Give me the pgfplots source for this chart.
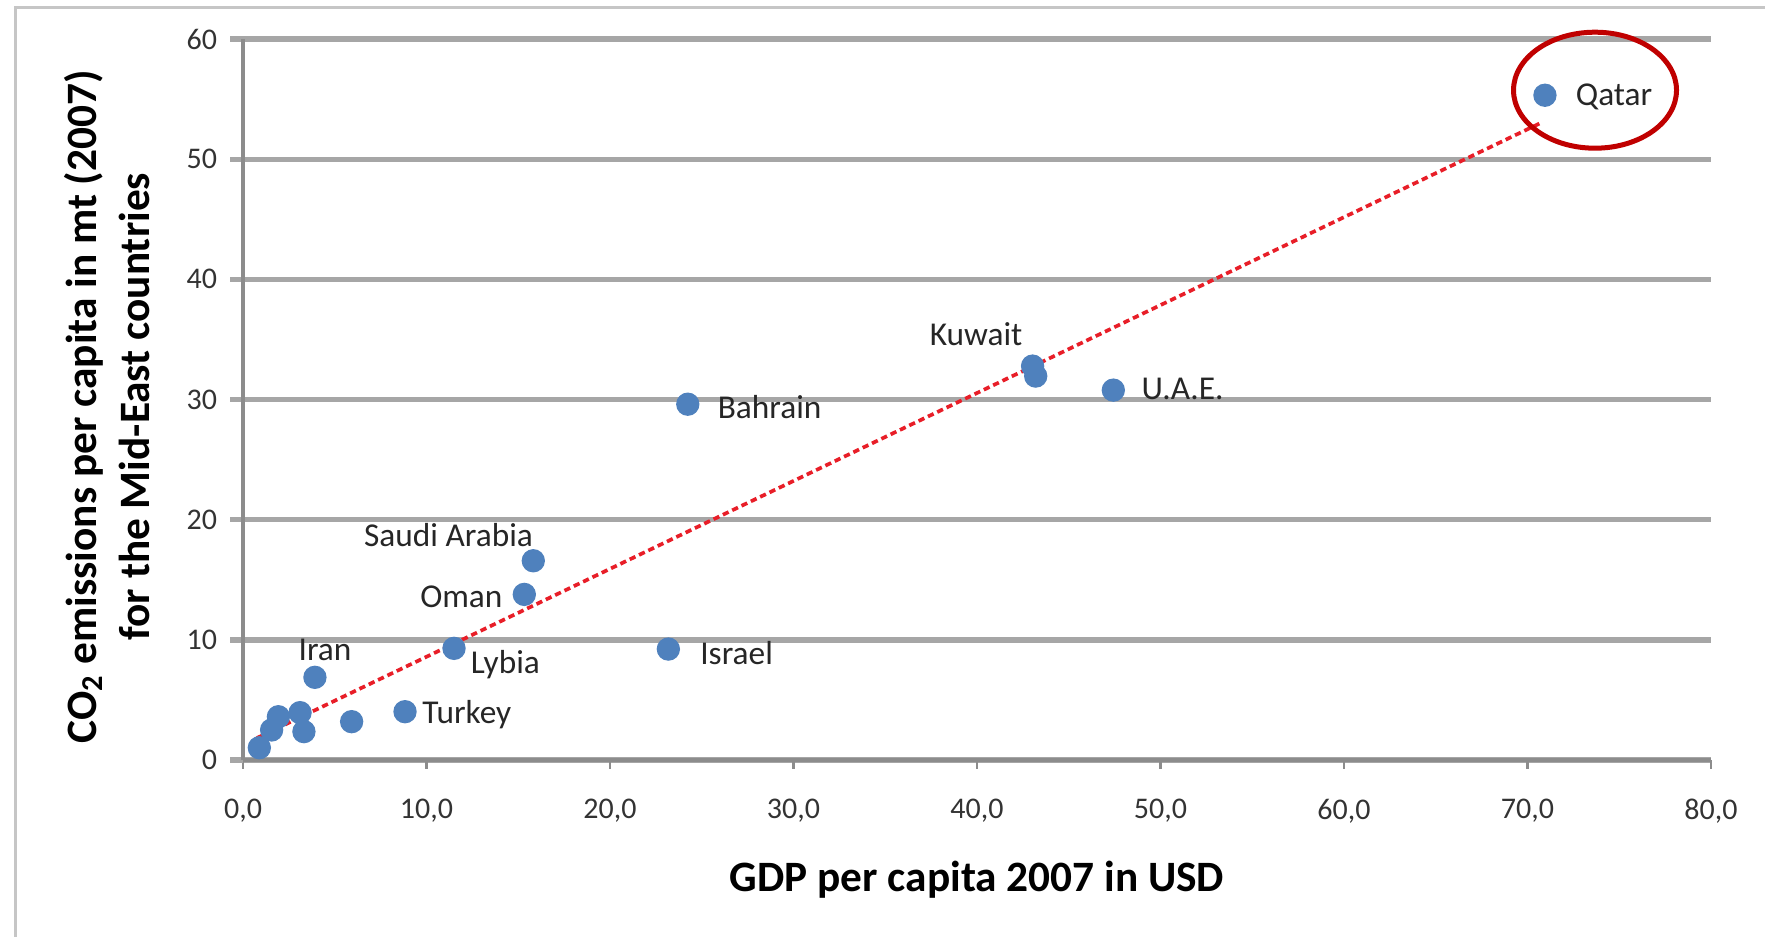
\documentclass[border=0pt]{standalone}
\usepackage{fontspec}
\setmainfont{Carlito}
\usepackage{pgfplots}
\pgfplotsset{compat=1.18}

\definecolor{ptblue}{RGB}{79,129,189}
\definecolor{trendred}{RGB}{232,30,40}
\definecolor{ringred}{RGB}{192,0,0}
\definecolor{gridgray}{RGB}{166,166,166}
\definecolor{axisgray}{RGB}{140,140,140}
\definecolor{framegray}{RGB}{198,198,198}

\begin{document}
\begin{tikzpicture}[lbl/.style={font=\fontsize{10}{12}\selectfont, text=black!85, inner sep=0pt}]
\useasboundingbox (0,0) rectangle (529.5pt,280.8pt);
% chart area frame
\draw[framegray, line width=0.9pt] (4.5pt,-5pt) -- (4.5pt,278.4pt) -- (540pt,278.4pt);
\begin{axis}[
  at={(72.9pt,52.8pt)}, anchor=south west,
  scale only axis, width=440.4pt, height=216.3pt,
  xmin=0, xmax=80, ymin=0, ymax=60,
  xtick={0,10,...,80}, ytick={0,10,...,60},
  axis lines=left, axis line style={-, axisgray, line width=1.3pt},
  ymajorgrids, major grid style={gridgray, line width=1.6pt},
  tick align=outside,
  xtick style={axisgray, line width=0.8pt, /pgfplots/major tick length=2.6pt},
  ytick style={gridgray, line width=1.6pt, /pgfplots/major tick length=3.9pt},
  /pgf/number format/assume math mode=true,
  tick label style={font=\fontsize{9}{10}\selectfont, text=black!80},
  xticklabel style={yshift=-4pt, /pgf/number format/.cd, fixed, fixed zerofill, precision=1, use comma},
  xlabel={GDP per capita 2007 in USD},
  xlabel style={font=\bfseries\fontsize{13}{15}\selectfont, at={(axis description cs:0.5,0)}, anchor=base, yshift=-39.3pt},
  ylabel={CO\textsubscript{2} emissions per capita in mt (2007)\\for the Mid-East countries},
  ylabel style={font=\bfseries\fontsize{13}{15.9}\selectfont, align=center, at={(axis description cs:-0.0925,0.49)}, anchor=center},
  clip=false,
]
% countries: GDP per capita vs CO2 per capita
\addplot[only marks, mark=*, mark size=3.3pt, mark options={draw=ptblue, fill=ptblue}] table {
x y
0.89 1.02
1.56 2.50
1.93 3.60
3.11 3.94
3.32 2.36
5.92 3.19
8.83 4.02
3.92 6.88
11.50 9.29
15.33 13.78
15.82 16.58
23.18 9.23
24.24 29.61
43.03 32.78
43.20 31.95
47.43 30.78
70.95 55.32
};
% linear trend
\addplot[trendred, line width=1.1pt, dash pattern=on 1.9pt off 1.2pt] coordinates {(0.76,1.83) (70.7,53.0)};

\node[lbl, anchor=west] at (axis cs:72.6,55.2) {Qatar};
\node[lbl] at (axis cs:39.95,35.4) {Kuwait};
\node[lbl] at (axis cs:51.2,30.9) {U.A.E.};
\node[lbl] at (axis cs:28.7,29.4) {Bahrain};
\node[lbl] at (axis cs:11.2,18.7) {Saudi Arabia};
\node[lbl] at (axis cs:11.9,13.6) {Oman};
\node[lbl] at (axis cs:14.3,7.9) {Lybia};
\node[lbl] at (axis cs:26.9,8.9) {Israel};
\node[lbl] at (axis cs:4.47,9.2) {Iran};
\node[lbl] at (axis cs:12.2,3.8) {Turkey};

\draw[ringred, line width=1.5pt] (axis cs:73.68,55.74) ellipse [x radius=24.45pt, y radius=17.4pt];
\end{axis}
\end{tikzpicture}
\end{document}
